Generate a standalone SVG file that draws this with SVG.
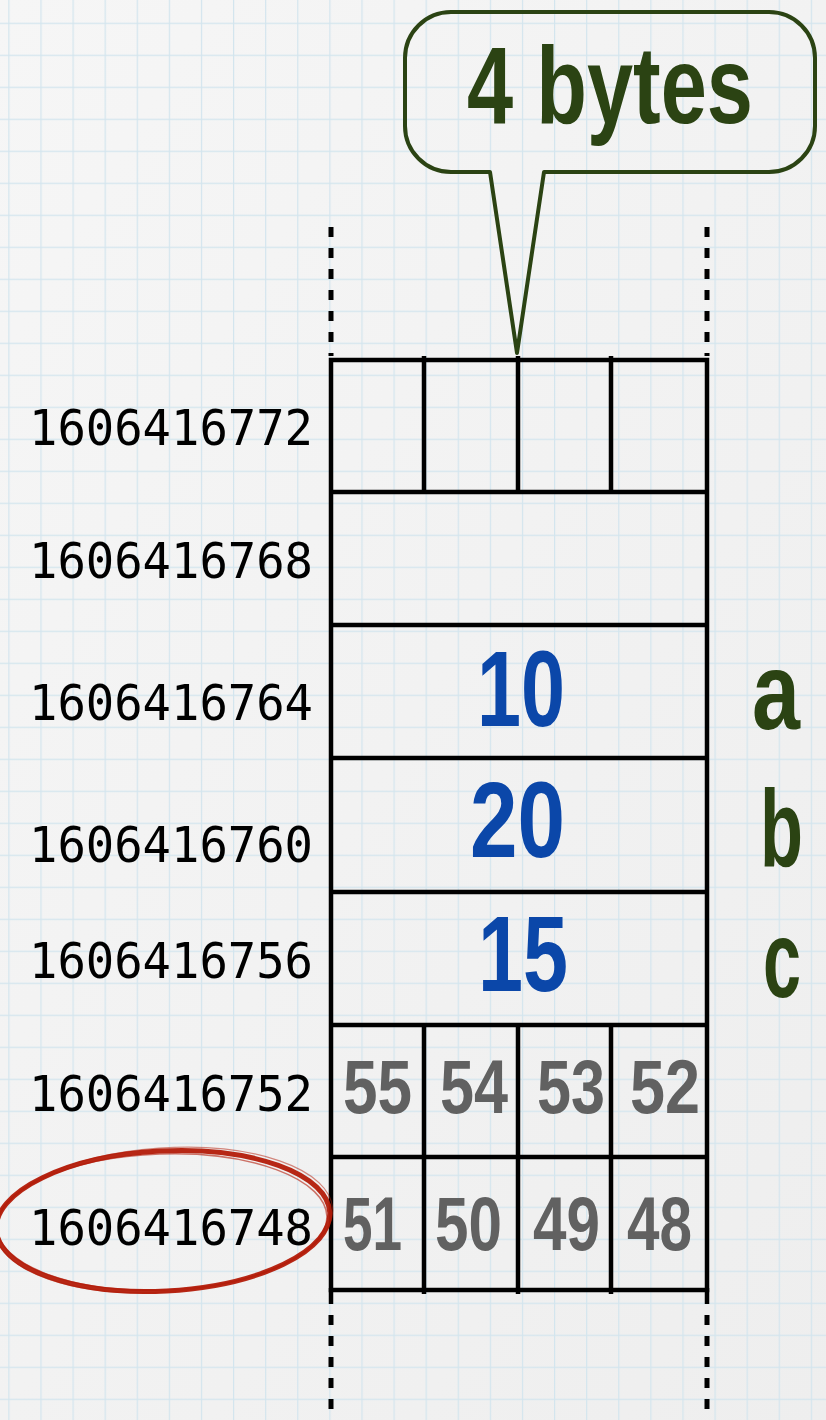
<svg xmlns="http://www.w3.org/2000/svg" width="826" height="1420" viewBox="0 0 826 1420">
  <defs>
    <pattern id="grid" x="8.3" y="22.7" width="32.1" height="32" patternUnits="userSpaceOnUse">
      <path d="M 0 0 V 32 M 0 0 H 32.1" fill="none" stroke="#d3e5ee" stroke-width="2.4"/>
    </pattern>
    <linearGradient id="paper" x1="0" y1="0" x2="1" y2="1">
      <stop offset="0" stop-color="#f6f6f6"/>
      <stop offset="1" stop-color="#eeeeee"/>
    </linearGradient>
    <style>
      .addr { font-family: "DejaVu Sans Mono", "Liberation Mono", monospace; font-size: 50px; fill: #000; }
      .hand { font-family: "Liberation Sans", Arial, sans-serif; font-weight: bold; }
      .val { fill: #0b47a9; font-size: 108px; }
      .byte { fill: #616161; font-size: 76px; }
      .var { fill: #2b4313; font-size: 110px; }
      .title { fill: #2b4313; font-size: 83px; }
      .cell { fill: none; stroke: #000; stroke-width: 4.5; }
      .dash { fill: none; stroke: #000; stroke-width: 5; stroke-dasharray: 10 11; }
    </style>
  </defs>

  <rect width="826" height="1420" fill="url(#paper)"/>
  <rect width="826" height="1420" fill="url(#grid)"/>

  <g id="connectors">
    <line class="dash" x1="331" y1="227" x2="331" y2="356"/>
    <line class="dash" x1="707" y1="227" x2="707" y2="356"/>
    <line class="dash" x1="331" y1="1315" x2="331" y2="1420"/>
    <line class="dash" x1="707" y1="1315" x2="707" y2="1420"/>
    <line class="cell" x1="331" y1="1288" x2="331" y2="1304"/>
    <line class="cell" x1="707" y1="1288" x2="707" y2="1304"/>
  </g>

  <g id="callout">
    <path d="M 451 12 H 769 A 46 46 0 0 1 815 58 V 126 A 46 46 0 0 1 769 172 H 544 L 517 353 L 490 172 H 451 A 46 46 0 0 1 405 126 V 58 A 46 46 0 0 1 451 12 Z" fill="none" stroke="#2b4313" stroke-width="4" stroke-linejoin="round"/>
    <text class="hand title" x="0" y="0" transform="translate(467 123) scale(1 1.32)">4 bytes</text>
  </g>

  <g id="memory">
    <rect class="cell" x="331" y="360" width="376" height="930"/>
    <line class="cell" x1="331" y1="492" x2="707" y2="492"/>
    <line class="cell" x1="331" y1="625" x2="707" y2="625"/>
    <line class="cell" x1="331" y1="758" x2="707" y2="758"/>
    <line class="cell" x1="331" y1="892" x2="707" y2="892"/>
    <line class="cell" x1="331" y1="1025" x2="707" y2="1025"/>
    <line class="cell" x1="331" y1="1157" x2="707" y2="1157"/>
    <line class="cell" x1="424" y1="356" x2="424" y2="492"/>
    <line class="cell" x1="518" y1="356" x2="518" y2="492"/>
    <line class="cell" x1="611" y1="356" x2="611" y2="492"/>
    <line class="cell" x1="424" y1="1025" x2="424" y2="1294"/>
    <line class="cell" x1="518" y1="1025" x2="518" y2="1294"/>
    <line class="cell" x1="611" y1="1025" x2="611" y2="1294"/>
  </g>

  <g id="addresses">
    <text class="addr" x="29" y="445" textLength="284" lengthAdjust="spacingAndGlyphs">1606416772</text>
    <text class="addr" x="29" y="578" textLength="284" lengthAdjust="spacingAndGlyphs">1606416768</text>
    <text class="addr" x="29" y="720" textLength="284" lengthAdjust="spacingAndGlyphs">1606416764</text>
    <text class="addr" x="29" y="862" textLength="284" lengthAdjust="spacingAndGlyphs">1606416760</text>
    <text class="addr" x="29" y="978" textLength="284" lengthAdjust="spacingAndGlyphs">1606416756</text>
    <text class="addr" x="29" y="1111" textLength="284" lengthAdjust="spacingAndGlyphs">1606416752</text>
    <text class="addr" x="29" y="1245" textLength="284" lengthAdjust="spacingAndGlyphs">1606416748</text>
  </g>

  <g id="values">
    <text class="hand val" x="477" y="726" textLength="88" lengthAdjust="spacingAndGlyphs">10</text>
    <text class="hand val" x="470" y="857" textLength="95" lengthAdjust="spacingAndGlyphs">20</text>
    <text class="hand val" x="478" y="991" textLength="90" lengthAdjust="spacingAndGlyphs">15</text>
  </g>

  <g id="bytes">
    <text class="hand byte" x="343" y="1113" textLength="69" lengthAdjust="spacingAndGlyphs">55</text>
    <text class="hand byte" x="440" y="1113" textLength="68" lengthAdjust="spacingAndGlyphs">54</text>
    <text class="hand byte" x="537" y="1113" textLength="68" lengthAdjust="spacingAndGlyphs">53</text>
    <text class="hand byte" x="630" y="1113" textLength="70" lengthAdjust="spacingAndGlyphs">52</text>
    <text class="hand byte" x="343" y="1250" textLength="59" lengthAdjust="spacingAndGlyphs">51</text>
    <text class="hand byte" x="435" y="1250" textLength="67" lengthAdjust="spacingAndGlyphs">50</text>
    <text class="hand byte" x="533" y="1250" textLength="67" lengthAdjust="spacingAndGlyphs">49</text>
    <text class="hand byte" x="627" y="1250" textLength="65" lengthAdjust="spacingAndGlyphs">48</text>
  </g>

  <g id="names">
    <text class="hand var" x="752" y="729" textLength="48" lengthAdjust="spacingAndGlyphs">a</text>
    <text class="hand var" x="760" y="866" textLength="43" lengthAdjust="spacingAndGlyphs">b</text>
    <text class="hand var" x="763" y="997" textLength="38" lengthAdjust="spacingAndGlyphs">c</text>
  </g>

  <g id="highlight" fill="none" stroke="#b31b08">
    <ellipse cx="163" cy="1221" rx="167" ry="70" transform="rotate(-3 163 1221)" stroke-width="5" opacity="0.95"/>
    <ellipse cx="162" cy="1222" rx="165" ry="68" transform="rotate(-2 162 1222)" stroke-width="1.5" opacity="0.6"/>
    <ellipse cx="164" cy="1220" rx="169" ry="72" transform="rotate(-4 164 1220)" stroke-width="1.2" opacity="0.5"/>
  </g>
</svg>
